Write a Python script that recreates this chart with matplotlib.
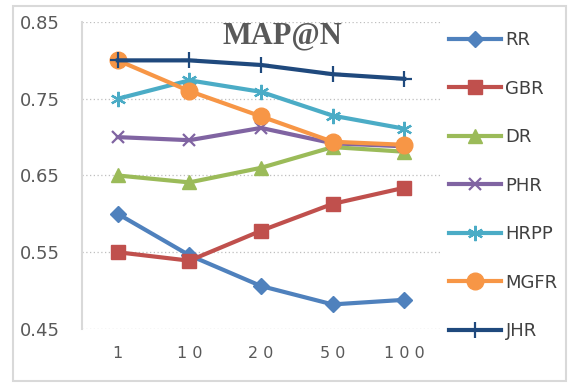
import matplotlib.pyplot as plt
from matplotlib.patches import Rectangle

# MAP@N for each method at different list lengths N
n_labels = ['1', '10', '20', '50', '100']
rr = [0.600, 0.546, 0.506, 0.482, 0.488]
gbr = [0.550, 0.539, 0.578, 0.613, 0.634]
dr = [0.650, 0.641, 0.660, 0.687, 0.681]
phr = [0.700, 0.696, 0.712, 0.692, 0.688]
hrpp = [0.750, 0.774, 0.759, 0.728, 0.711]
mgfr = [0.800, 0.760, 0.727, 0.694, 0.690]
jhr = [0.800, 0.800, 0.794, 0.782, 0.776]
y_ticks = [0.45, 0.55, 0.65, 0.75, 0.85]

series = [
    ('RR', rr, '#4F81BD', dict(marker='D', markersize=8)),
    ('GBR', gbr, '#C0504D', dict(marker='s', markersize=9.5)),
    ('DR', dr, '#9BBB59', dict(marker='^', markersize=9.5)),
    ('PHR', phr, '#8064A2', dict(marker='x', markersize=9, markeredgewidth=1.6)),
    ('HRPP', hrpp, '#4BACC6', dict(marker=(6, 2, 0), markersize=11, markeredgewidth=1.6)),
    ('MGFR', mgfr, '#F79646', dict(marker='o', markersize=12)),
    ('JHR', jhr, '#1F497D', dict(marker='+', markersize=11, markeredgewidth=1.6)),
]

fig = plt.figure(figsize=(5.71, 3.86), dpi=100)
ax = fig.add_axes([0.1436, 0.1477, 0.627, 0.7953])

# chart frame
fig.patches.append(Rectangle((13 / 571, 5 / 386), 553 / 571, 375 / 386,
                             transform=fig.transFigure, fill=False,
                             edgecolor='#D9D9D9', linewidth=1.5))

x = range(len(n_labels))
for name, vals, color, mk in series:
    ax.plot(x, vals, color=color, linewidth=3, label=name,
            markerfacecolor=color, markeredgecolor=color, **mk)

ax.set_xlim(-0.5, len(n_labels) - 0.5)
ax.set_ylim(0.45, 0.85)
ax.set_yticks(y_ticks)
ax.set_yticklabels([f'{t:.2f}' for t in y_ticks])
ax.set_xticks(list(x))
ax.set_xticklabels([' '.join(s) for s in n_labels])
ax.tick_params(axis='both', length=0, colors='#595959')
ax.tick_params(axis='y', labelsize=13, pad=16)
ax.tick_params(axis='x', labelsize=11.5, pad=12)

for t in y_ticks:
    ax.axhline(t, color='#BFBFBF', linestyle=(0, (1, 2)), linewidth=0.9, zorder=0)
for side in ['top', 'right', 'bottom']:
    ax.spines[side].set_visible(False)
ax.spines['left'].set_color('#D9D9D9')
ax.spines['left'].set_linewidth(1.5)

fig.text(282 / 571, 1 - 36 / 386, 'MAP@N', ha='center', va='center',
         fontsize=22, fontweight='bold', family='Liberation Serif', color='#595959')

leg = ax.legend(loc='upper left', bbox_to_anchor=(0.773, 0.938),
                bbox_transform=fig.transFigure, frameon=False, fontsize=13,
                handlelength=2.9, handletextpad=0.25, labelspacing=1.69,
                borderaxespad=0)
for txt in leg.get_texts():
    txt.set_color('#404040')

fig.savefig('out.png', dpi=100)
